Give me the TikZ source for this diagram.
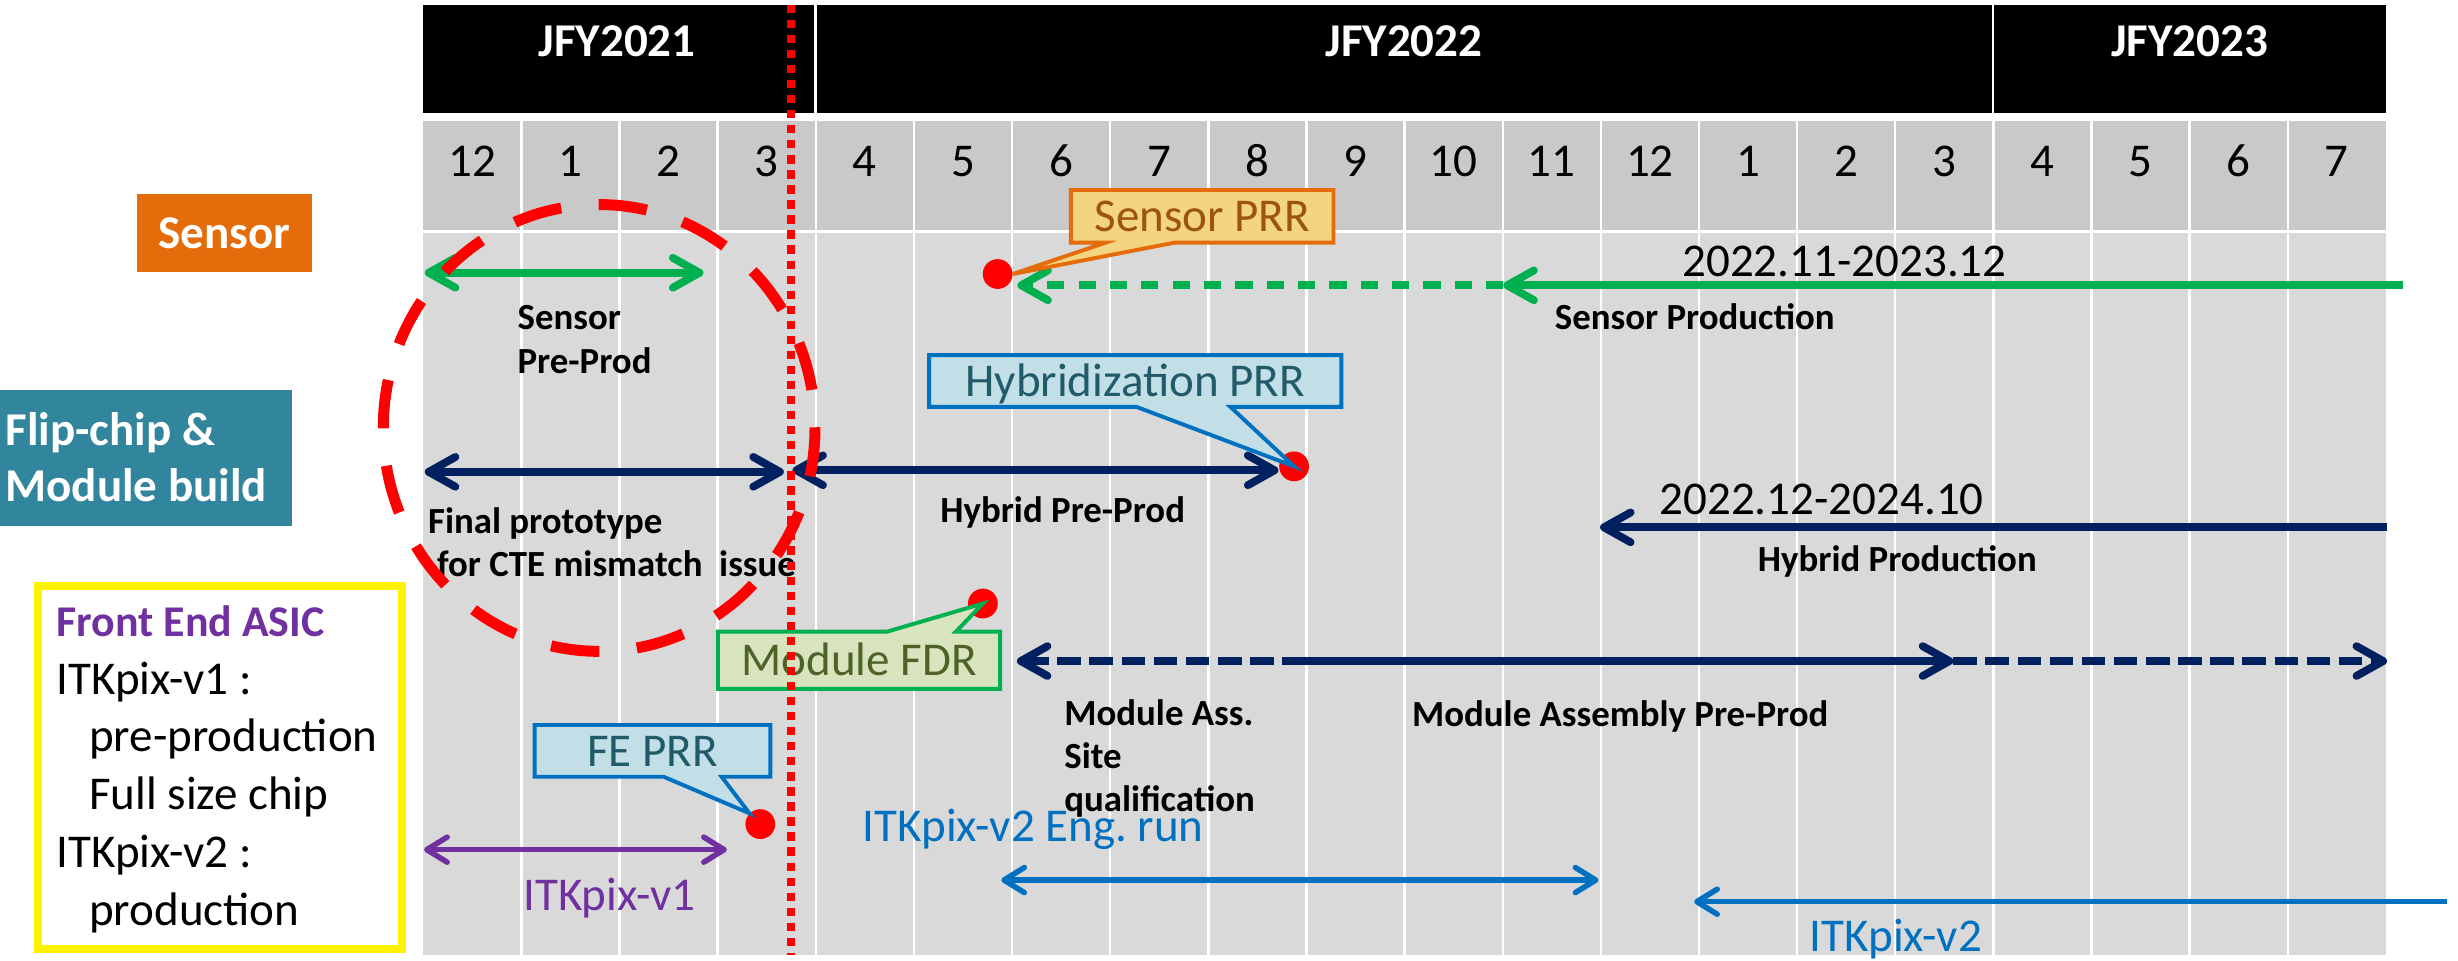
\documentclass[tikz,border=0pt]{standalone}
\usepackage{fontspec}
\setmainfont{Carlito}
\frenchspacing
\usetikzlibrary{arrows.meta,shapes.callouts}
\definecolor{sensorc}{HTML}{E46C0A}
\definecolor{flipc}{HTML}{31859C}
\definecolor{prodgreen}{HTML}{00B050}
\definecolor{navy}{HTML}{002060}
\definecolor{asicblue}{HTML}{0070C0}
\definecolor{asicpurple}{HTML}{7030A0}
\definecolor{monthgray}{HTML}{C9C9C9}
\definecolor{bodygray}{HTML}{D9D9D9}
\definecolor{prrfill}{HTML}{F3D47F}
\definecolor{prrtext}{HTML}{9C5410}
\definecolor{bluefill}{HTML}{C2DEE6}
\definecolor{bluetext}{HTML}{215A69}
\definecolor{fdrfill}{HTML}{D7E4BD}
\definecolor{fdrtext}{HTML}{4F6228}

\begin{document}
\begin{tikzpicture}[x=1pt, y=-1pt,
    >={Straight Barb[length=17pt,width=19pt,round]},
    yr/.style={text=white, font=\fontsize{30}{36}\selectfont\bfseries, anchor=base, inner sep=0},
    mon/.style={font=\fontsize{30}{36}\selectfont, anchor=base, inner sep=0},
    cat/.style={text=white, font=\fontsize{30}{36}\selectfont\bfseries, inner sep=0},
    lbl/.style={font=\fontsize{23.5}{27.7}\selectfont\bfseries, anchor=base west, inner sep=0},
    txt/.style={font=\fontsize{30}{36.8}\selectfont, anchor=base west, inner sep=0},
    bar/.style={line width=5},
    thin bar/.style={line width=3.5, >={Straight Barb[length=13pt,width=16pt,round]}},
    greendash/.style={line width=5, dash pattern=on 11pt off 9pt},
    navydash/.style={line width=5, dash pattern=on 15pt off 5.5pt},
    dot/.style={circle, fill=red, minimum size=19, inner sep=0},
    note/.style={rectangle callout, line width=2.5, inner sep=0, font=\fontsize{30}{36}\selectfont, text height=19.5pt, text depth=0pt}
  ]
  \useasboundingbox (0,0) rectangle (1568,613);

  \fill[black] (270,3) rectangle (519.5,72);
  \fill[black] (521,3) rectangle (1270.5,72);
  \fill[black] (1272,3) rectangle (1522,72);
  \fill[monthgray] (270,77) rectangle (1522,146.5);
  \fill[bodygray] (270,148.5) rectangle (1522,609);
  \foreach \i in {1,...,19}
    \draw[white, line width=1.5] ({270+62.6*\i},77) -- ({270+62.6*\i},609);
  \foreach \m [count=\i from 0] in {12,1,2,3,4,5,6,7,8,9,10,11,12,1,2,3,4,5,6,7}
    \node[mon] (m\i) at ({301.3+62.6*\i},112.7) {\m};

  \node[yr] (fy21) at (393.6,36) {JFY2021};
  \node[yr] (fy22) at (895.6,36) {JFY2022};
  \node[yr] (fy23) at (1396.7,36) {JFY2023};

  \node[cat, fill=sensorc, minimum width=112, minimum height=49.5, text height=19.5pt, text depth=0pt] (sensor) at (143.3,148.6) {Sensor};
  \node[fill=flipc, minimum width=186, minimum height=86.5, inner sep=0] (flip) at (93,292) {};
  \node[cat, anchor=base west, text width=180, align=flush left] (fliptext) at (3.3,284) {Flip-chip \&\\Module build};
  \draw[yellow, line width=5] (24.2,373.6) rectangle (256.7,605.6);
  \node[txt, text width=215, align=flush left] (asic) at (36,406.1) {{\color{asicpurple}\bfseries\fontsize{28}{36.8}\selectfont Front End ASIC}\\
    ITKpix-v1 :\\
    \hspace*{20.7pt}pre-production\\
    \hspace*{20.7pt}Full size chip\\
    ITKpix-v2 :\\
    \hspace*{20.7pt}production};

  \coordinate (spL) at (271,174);
  \coordinate (spR) at (448.7,174);
  \coordinate (prodR) at (1533,182);
  \coordinate (prodM) at (959,182);
  \coordinate (prodL) at (649,182);
  \coordinate (fpL) at (271,301);
  \coordinate (fpR) at (500,301);
  \coordinate (hpL) at (505.5,300);
  \coordinate (hpR) at (815.5,300);
  \coordinate (hprodR) at (1522.7,336.4);
  \coordinate (hprodL) at (1020.7,336.4);
  \coordinate (maL) at (648.7,421.7);
  \coordinate (maM) at (833,421.7);
  \coordinate (maA) at (1246,421.7);
  \coordinate (maR) at (1522.7,421.7);
  \coordinate (v1L) at (270.5,542);
  \coordinate (v1R) at (463.7,542);
  \coordinate (engL) at (638.7,561.4);
  \coordinate (engR) at (1019.7,561.4);
  \coordinate (v2R) at (1561,575.2);
  \coordinate (v2L) at (1080.7,575.2);
  \coordinate (cutT) at (504.4,3);
  \coordinate (cutB) at (504.4,609);

  \draw[bar, prodgreen, <->] (spL) -- (spR);
  \draw[bar, prodgreen, ->] (prodR) -- (prodM);
  \draw[greendash, prodgreen, ->] (prodM) -- (prodL);
  \draw[bar, navy, <->] (fpL) -- (fpR);
  \draw[bar, navy, <->] (hpL) -- (hpR);
  \draw[bar, navy, ->] (hprodR) -- (hprodL);
  \draw[navydash, navy, ->] (maM) -- (maL);
  \draw[bar, navy, ->] (maM) -- (maA);
  \draw[navydash, navy, ->] (maA) -- (maR);
  \draw[thin bar, asicpurple, <->] (v1L) -- (v1R);
  \draw[thin bar, asicblue, <->] (engL) -- (engR);
  \draw[thin bar, asicblue, ->] (v2R) -- (v2L);

  \node[dot] (dS) at (636.4,174.8) {};
  \node[dot] (dH) at (825.5,297.5) {};
  \node[dot] (dF) at (627,385) {};
  \node[dot] (dE) at (485,525.7) {};

  \node[note, fill=prrfill, draw=sensorc, text=prrtext, minimum width=167.5, minimum height=33.6, callout absolute pointer={(dS.east)}, callout pointer width=44] (prrS) at (766.9,138) {Sensor PRR};
  \node[note, fill=bluefill, draw=asicblue, text=bluetext, minimum width=263, minimum height=33, callout absolute pointer={(dH.center)}, callout pointer width=60] (prrH) at (724.2,243) {Hybridization PRR};
  \node[note, fill=fdrfill, draw=prodgreen, text=fdrtext, minimum width=180, minimum height=36.5, callout absolute pointer={(dF.center)}, callout pointer width=44] (fdr) at (548,421.2) {Module FDR};
  \node[note, fill=bluefill, draw=asicblue, text=bluetext, minimum width=150.4, minimum height=33, callout absolute pointer={(dE.north west)}, callout pointer width=37] (prrE) at (416.2,479) {FE PRR};

  \node[lbl, text width=100, align=flush left] (spT) at (330,210.5) {Sensor\\Pre-Prod};
  \node[lbl] (prodT) at (991.7,210) {Sensor Production};
  \node[lbl, text width=260, align=flush left] (fpT) at (272.9,340.2) {Final prototype\\\hspace*{5.7pt}for CTE mismatch\ \ issue};
  \node[lbl] (hpT) at (599.7,333.4) {Hybrid Pre-Prod};
  \node[lbl] (hprodT) at (1121.2,364.7) {Hybrid Production};
  \node[lbl, text width=200, align=flush left] (maT) at (678.8,462.5) {Module Ass.\\Site\\qualification};
  \node[lbl] (mapT) at (900.6,463.6) {Module Assembly Pre-Prod};
  \node[txt] (prodD) at (1073,176.5) {2022.11-2023.12};
  \node[txt] (hprodD) at (1058.4,328.1) {2022.12-2024.10};
  \node[txt, text=asicpurple] (v1T) at (333.6,580.5) {ITKpix-v1};
  \node[txt, text=asicblue] (engT) at (550.3,536.9) {ITKpix-v2 Eng.\ run};
  \node[txt, text=asicblue] (v2T) at (1154.4,607.1) {ITKpix-v2};

  \draw[red, line width=5, dash pattern=on 5.3pt off 4.3pt] (cutT) -- (cutB);
  \draw[red, line width=7, dash pattern=on 31pt off 24pt] (382.2,273) ellipse [x radius=137.7, y radius=142.5];
\end{tikzpicture}
\end{document}
